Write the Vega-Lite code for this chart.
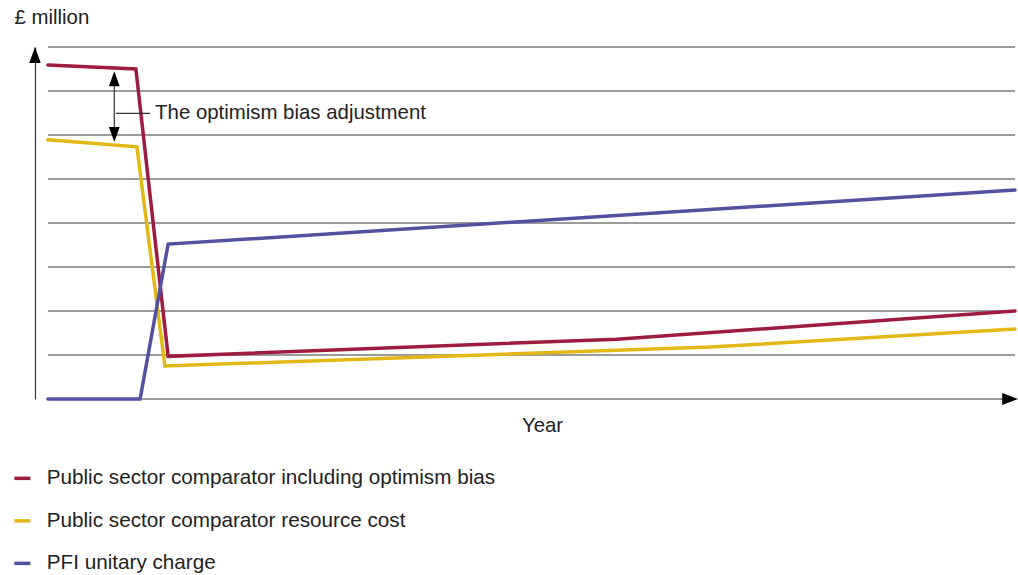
{
  "$schema": "https://vega.github.io/schema/vega-lite/v6.json",
  "width": 980,
  "height": 352,
  "autosize": "none",
  "padding": {"left": 35, "top": 47, "right": 3, "bottom": 176},
  "background": "white",
  "config": {
    "view": {"stroke": null},
    "font": "Liberation Sans",
    "axis": {"grid": false, "ticks": false, "labels": false, "titleFontSize": 20.4, "titleFontWeight": "normal", "titleColor": "#222222"},
    "axisX": {"domain": false, "titleX": 507, "titleY": 26, "titleBaseline": "middle", "titleAlign": "center"},
    "axisY": {"domain": true, "domainColor": "#333333", "domainWidth": 1.2, "titleAngle": 0, "titleX": -21, "titleY": -30, "titleAlign": "left", "titleBaseline": "middle"},
    "legend": {
      "title": null,
      "labelFont": "Liberation Sans",
      "labelFontSize": 20.7,
      "labelColor": "#222222",
      "labelLimit": 0,
      "symbolType": "stroke",
      "symbolSize": 256,
      "symbolStrokeWidth": 3.5,
      "labelOffset": 14,
      "rowPadding": 20.5,
      "padding": 0
    }
  },
  "layer": [
    {
      "data": {"values": [
        {"level": 0}, {"level": 1}, {"level": 2}, {"level": 3}, {"level": 4},
        {"level": 5}, {"level": 6}, {"level": 7}, {"level": 8}
      ]},
      "mark": {"type": "rule", "color": "#7a7a7a", "strokeWidth": 1.5},
      "encoding": {
        "x": {"datum": 0, "type": "quantitative", "scale": {"domain": [-0.4, 30], "nice": false}, "title": "Year"},
        "x2": {"datum": 30},
        "y": {"field": "level", "type": "quantitative", "scale": {"domain": [0, 8], "nice": false}, "title": "£ million"}
      }
    },
    {
      "data": {"values": [
        {"series": "Public sector comparator including optimism bias", "year": 0, "value": 7.59},
        {"series": "Public sector comparator including optimism bias", "year": 2.73, "value": 7.5},
        {"series": "Public sector comparator including optimism bias", "year": 3.73, "value": 0.97},
        {"series": "Public sector comparator including optimism bias", "year": 17.65, "value": 1.36},
        {"series": "Public sector comparator including optimism bias", "year": 30, "value": 2.0},
        {"series": "Public sector comparator resource cost", "year": 0, "value": 5.89},
        {"series": "Public sector comparator resource cost", "year": 2.76, "value": 5.73},
        {"series": "Public sector comparator resource cost", "year": 3.63, "value": 0.75},
        {"series": "Public sector comparator resource cost", "year": 20.54, "value": 1.18},
        {"series": "Public sector comparator resource cost", "year": 30, "value": 1.59},
        {"series": "PFI unitary charge", "year": 0, "value": 0},
        {"series": "PFI unitary charge", "year": 2.86, "value": 0},
        {"series": "PFI unitary charge", "year": 3.73, "value": 3.52},
        {"series": "PFI unitary charge", "year": 30, "value": 4.75}
      ]},
      "mark": {"type": "line", "strokeWidth": 3.5, "strokeJoin": "miter", "strokeCap": "round"},
      "encoding": {
        "x": {"field": "year", "type": "quantitative", "title": "Year"},
        "y": {"field": "value", "type": "quantitative", "title": "£ million"},
        "color": {
          "field": "series", "type": "nominal",
          "scale": {
            "domain": ["Public sector comparator including optimism bias", "Public sector comparator resource cost", "PFI unitary charge"],
            "range": ["#9e1c40", "#e2b817", "#5350a0"]
          },
          "legend": {"orient": "none", "legendX": -23, "legendY": 421, "direction": "vertical"}
        }
      }
    },
    {
      "data": {"values": [
        {"direction": "up", "px": -0.4, "py": 7.82},
        {"direction": "right", "px": 29.85, "py": 0}
      ]},
      "mark": {"type": "point", "filled": true, "color": "#000000", "opacity": 1, "size": 256},
      "encoding": {
        "x": {"field": "px", "type": "quantitative", "title": "Year"},
        "y": {"field": "py", "type": "quantitative", "title": "£ million"},
        "shape": {
          "field": "direction", "type": "nominal", "legend": null,
          "scale": {"domain": ["up", "down", "right"], "range": ["M0,-1L0.72,1L-0.72,1Z", "M0,1L0.72,-1L-0.72,-1Z", "M1,0L-1,-0.75L-1,0.75Z"]}
        }
      }
    },
    {
      "data": {"values": [{"px": 2.06, "top": 7.35, "bottom": 5.95}]},
      "mark": {"type": "rule", "color": "#333333", "strokeWidth": 1.2},
      "encoding": {
        "x": {"field": "px", "type": "quantitative", "title": "Year"},
        "y": {"field": "top", "type": "quantitative", "title": "£ million"},
        "y2": {"field": "bottom"}
      }
    },
    {
      "data": {"values": [
        {"direction": "up", "px": 2.06, "py": 7.28},
        {"direction": "down", "px": 2.06, "py": 6.01}
      ]},
      "mark": {"type": "point", "filled": true, "color": "#000000", "opacity": 1, "size": 225},
      "encoding": {
        "x": {"field": "px", "type": "quantitative", "title": "Year"},
        "y": {"field": "py", "type": "quantitative", "title": "£ million"},
        "shape": {
          "field": "direction", "type": "nominal", "legend": null,
          "scale": {"domain": ["up", "down", "right"], "range": ["M0,-1L0.72,1L-0.72,1Z", "M0,1L0.72,-1L-0.72,-1Z", "M1,0L-1,-0.75L-1,0.75Z"]}
        }
      }
    },
    {
      "data": {"values": [{"from": 2.11, "to": 3.17, "level": 6.49, "note": "The optimism bias adjustment"}]},
      "layer": [
        {
          "mark": {"type": "rule", "color": "#333333", "strokeWidth": 1.2},
          "encoding": {
            "x": {"field": "from", "type": "quantitative", "title": "Year"},
            "x2": {"field": "to"},
            "y": {"field": "level", "type": "quantitative", "title": "£ million"}
          }
        },
        {
          "mark": {"type": "text", "align": "left", "baseline": "middle", "dx": 5, "fontSize": 20.4, "color": "#222222", "font": "Liberation Sans"},
          "encoding": {
            "x": {"field": "to", "type": "quantitative", "title": "Year"},
            "y": {"field": "level", "type": "quantitative", "title": "£ million"},
            "text": {"field": "note"}
          }
        }
      ]
    }
  ]
}
